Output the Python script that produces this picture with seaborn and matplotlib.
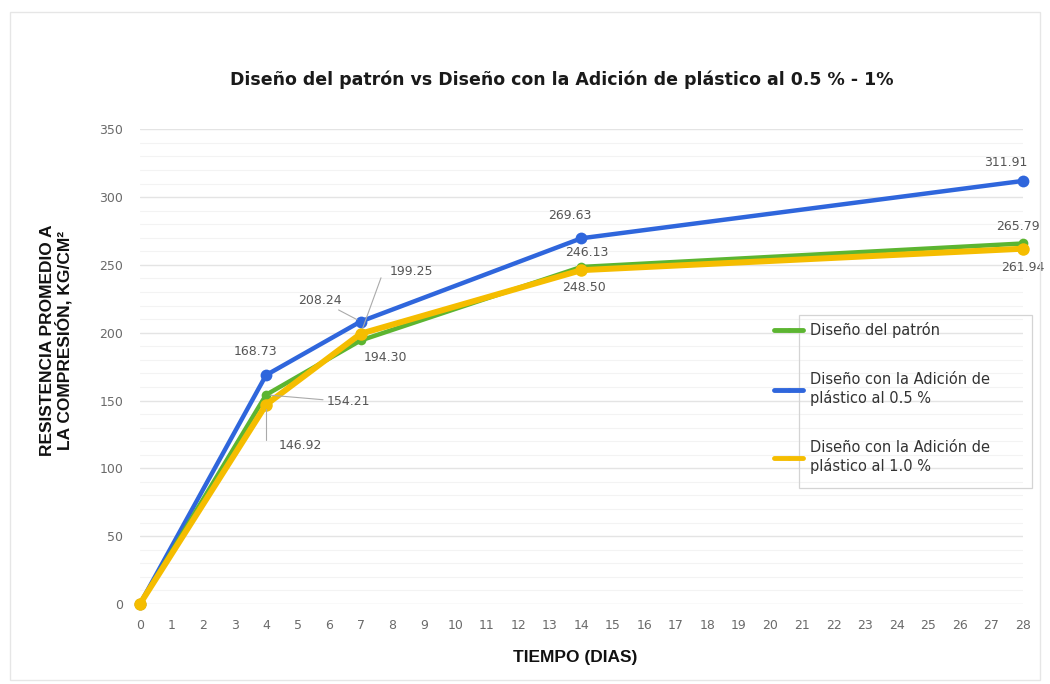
import matplotlib
matplotlib.use("Agg")
import matplotlib.pyplot as plt
import seaborn as sns
import pandas as pd
from matplotlib.patches import Rectangle
from matplotlib.lines import Line2D

dias = [0, 4, 7, 14, 28]
patron = [0, 154.21, 194.30, 248.50, 265.79]
plastico_05 = [0, 168.73, 208.24, 269.63, 311.91]
plastico_10 = [0, 146.92, 199.25, 246.13, 261.94]

series_names = [
    "Diseño del patrón",
    "Diseño con la Adición de\nplástico al 0.5 %",
    "Diseño con la Adición de\nplástico al 1.0 %",
]
colors = ["#5cb531", "#2f66dc", "#f5bd00"]

df = pd.concat([
    pd.DataFrame({"Tiempo": dias, "Resistencia": vals, "Serie": name})
    for name, vals in zip(series_names, [patron, plastico_05, plastico_10])
])

sns.set_theme(style="white")
plt.rcParams["font.family"] = ["DejaVu Sans"]

fig = plt.figure(figsize=(10.5, 6.84), dpi=100)
ax = fig.add_axes([0.1333, 0.117, 0.8407, 0.694])

# faint outer frame of the chart area
fig.patches.append(Rectangle((0.0095, 0.006), 0.981, 0.976, transform=fig.transFigure,
                             fill=False, edgecolor="#e6e6e6", linewidth=1.0))

widths = {series_names[0]: 3.2, series_names[1]: 3.2, series_names[2]: 4.3}
msizes = {series_names[0]: 7, series_names[1]: 8.5, series_names[2]: 9}
order = [series_names[1], series_names[0], series_names[2]]
for name in order:
    sub = df[df["Serie"] == name]
    c = colors[series_names.index(name)]
    sns.lineplot(data=sub, x="Tiempo", y="Resistencia", ax=ax, color=c,
                 linewidth=widths[name], marker="o", markersize=msizes[name],
                 markeredgewidth=0, clip_on=False, zorder=3, legend=False)

ax.set_xlim(0, 28)
ax.set_ylim(0, 350)
ax.set_xticks(range(0, 29))
ax.set_yticks(range(0, 351, 50))
ax.set_yticks(range(0, 351, 10), minor=True)
ax.grid(which="major", axis="y", color="#e4e4e4", linewidth=1.0)
ax.grid(which="minor", axis="y", color="#f3f3f3", linewidth=0.8)
ax.set_axisbelow(True)
for s in ax.spines.values():
    s.set_visible(False)
ax.tick_params(axis="both", which="both", length=0, labelsize=9, labelcolor="#6a6a6a")
ax.tick_params(axis="x", pad=11)
ax.tick_params(axis="y", pad=12)

ax.set_xlabel("TIEMPO (DIAS)", fontsize=12.5, fontweight="bold", color="#111111",
              family=["Liberation Sans", "DejaVu Sans"])
ax.xaxis.set_label_coords(0.4926, -0.098)
ax.set_ylabel("RESISTENCIA PROMEDIO A\nLA COMPRESIÓN, KG/CM²", fontsize=12.5,
              fontweight="bold", color="#111111", linespacing=1.0,
              family=["Liberation Sans", "DejaVu Sans"])
ax.yaxis.set_label_coords(-0.076, 0.556)
fig.text(0.535, 0.883, "Diseño del patrón vs Diseño con la Adición de plástico al 0.5 % - 1%",
         ha="center", va="center", fontsize=12.5, fontweight="bold", color="#1a1a1a")

lab = dict(fontsize=9, color="#555555")
lead = dict(arrowstyle="-", color="#aaaaaa", linewidth=0.8, shrinkA=0, shrinkB=3)

# value labels, blue series
ax.annotate(f"{plastico_05[1]:.2f}", (dias[1], plastico_05[1]), xytext=(3.65, 186),
            ha="center", va="center", **lab)
ax.annotate(f"{plastico_05[2]:.2f}", (dias[2], plastico_05[2]), xytext=(5.71, 224),
            ha="center", va="center", arrowprops=lead, **lab)
ax.annotate(f"{plastico_05[3]:.2f}", (dias[3], plastico_05[3]), xytext=(13.63, 286.5),
            ha="center", va="center", **lab)
ax.annotate(f"{plastico_05[4]:.2f}", (dias[4], plastico_05[4]), xytext=(27.45, 325.7),
            ha="center", va="center", **lab)

# value labels, green series
ax.annotate(f"{patron[1]:.2f}", (dias[1], patron[1]), xytext=(6.6, 149),
            ha="center", va="center", arrowprops=lead, **lab)
ax.annotate(f"{patron[2]:.2f}", (dias[2], patron[2]), xytext=(7.77, 182),
            ha="center", va="center", **lab)
ax.annotate(f"{patron[3]:.2f}", (dias[3], patron[3]), xytext=(14.1, 233),
            ha="center", va="center", **lab)
ax.annotate(f"{patron[4]:.2f}", (dias[4], patron[4]), xytext=(27.85, 278),
            ha="center", va="center", **lab)

# value labels, yellow series
ax.annotate(f"{plastico_10[1]:.2f}", (dias[1], plastico_10[1]), xytext=(5.1, 117),
            ha="center", va="center",
            arrowprops=dict(arrowstyle="-", color="#aaaaaa", linewidth=0.8, shrinkA=8, shrinkB=3,
                            connectionstyle="angle,angleA=0,angleB=90,rad=0"), **lab)
ax.annotate(f"{plastico_10[2]:.2f}", (dias[2], plastico_10[2]), xytext=(8.62, 245),
            ha="center", va="center",
            arrowprops=dict(arrowstyle="-", color="#aaaaaa", linewidth=0.8, shrinkA=6, shrinkB=4,
                            connectionstyle="angle,angleA=0,angleB=70,rad=0"), **lab)
ax.annotate(f"{plastico_10[3]:.2f}", (dias[3], plastico_10[3]), xytext=(14.17, 259),
            ha="center", va="center", **lab)
ax.annotate(f"{plastico_10[4]:.2f}", (dias[4], plastico_10[4]), xytext=(28.0, 248),
            ha="center", va="center", **lab)

# legend with handles sitting left of its frame
handles = [Line2D([], [], color=c, linewidth=3.5, marker="o", markersize=3, markeredgewidth=0)
           for c in colors]
leg = ax.legend(handles, series_names, loc="upper left", bbox_to_anchor=(0.705, 0.618),
                frameon=False, fontsize=10.5, handlelength=2.0, handletextpad=0.5,
                labelspacing=2.3, labelcolor="#333333", borderpad=0.3)
for t in leg.get_texts():
    t.set_linespacing(1.25)
ax.add_patch(Rectangle((0.747, 0.245), 0.263, 0.363, transform=ax.transAxes, fill=False,
                       edgecolor="#d4d4d4", linewidth=0.9, clip_on=False, zorder=4))

fig.savefig("out.png", dpi=100, facecolor="white")
